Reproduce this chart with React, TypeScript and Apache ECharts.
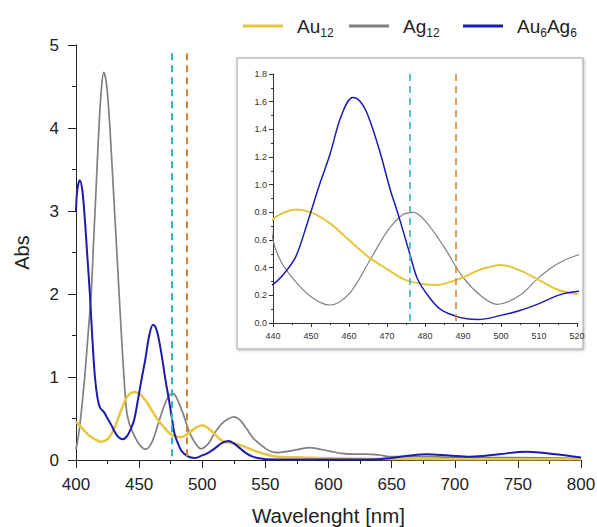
import React, { useEffect, useRef } from "react";
import * as echarts from "echarts";

const au12Wl = [400,405,410,415,420,425,430,435,440,443,446,450,455,460,465,470,475,480,483,487,490,495,500,505,510,515,520,525,530,540,550,560,580,600,700,800];
const au12Abs = [0.46,0.38,0.3,0.25,0.22,0.25,0.37,0.57,0.75,0.8,0.82,0.8,0.72,0.6,0.48,0.39,0.31,0.28,0.275,0.3,0.33,0.39,0.42,0.38,0.31,0.24,0.21,0.2,0.18,0.12,0.07,0.04,0.03,0.02,0.01,0.01];

const ag12Wl = [400,402,404,406,408,410,412,414,416,418,420,422,424,426,428,430,432,434,436,438,440,442,445,450,455,460,465,470,474,477,480,485,490,495,499,505,510,515,520,525,530,535,540,545,550,555,560,570,580,585,590,600,610,620,630,640,650,660,680,700,750,800];
const ag12Abs = [0.13,0.3,0.55,0.85,1.2,1.6,2.0,2.65,3.3,3.95,4.45,4.67,4.55,4.2,3.7,3.15,2.6,2.05,1.5,1.0,0.6,0.45,0.33,0.19,0.13,0.21,0.43,0.66,0.78,0.8,0.74,0.55,0.33,0.19,0.135,0.2,0.33,0.43,0.49,0.52,0.48,0.38,0.27,0.2,0.14,0.1,0.09,0.11,0.14,0.15,0.14,0.11,0.08,0.07,0.07,0.06,0.04,0.04,0.04,0.03,0.03,0.02];

const au6ag6Wl = [400,401,403,405,407,409,411,413,415,417,419,422,425,428,431,434,437,440,443,446,449,452,455,458,461,463,465,468,471,473,476,478,481,484,488,491,494,500,505,510,515,518,521,525,530,535,540,545,550,600,640,650,665,678,695,712,735,757,780,800];
const au6ag6Abs = [3.0,3.25,3.37,3.25,2.9,2.45,2.0,1.45,1.0,0.75,0.63,0.58,0.5,0.42,0.33,0.27,0.25,0.28,0.36,0.48,0.72,0.98,1.22,1.5,1.63,1.6,1.5,1.25,0.95,0.78,0.5,0.32,0.19,0.1,0.05,0.03,0.025,0.055,0.09,0.14,0.2,0.22,0.23,0.2,0.14,0.08,0.04,0.02,0.01,0.005,0.01,0.025,0.055,0.07,0.055,0.04,0.07,0.1,0.07,0.03];

const markerWl = [476, 488];
const markerColors = ["#35b5be", "#d2853a"];
const legendNames = ["Au12", "Ag12", "Au6Ag6"];
const legendLabels = ["{m|Au}{s|12}", "{m|Ag}{s|12}", "{m|Au}{s|6}{m|Ag}{s|6}"];

const FONT = "Liberation Sans, Arial, sans-serif";
const COLORS = { au12: "#e6c63c", ag12: "#808080", au6ag6: "#1c1cad" };

const zip = (xs: number[], ys: number[]) => xs.map((x, i) => [x, ys[i]]);

export default function App() {
  const ref = useRef<HTMLDivElement>(null);
  useEffect(() => {
    if (!ref.current) return;
    const chart = echarts.init(ref.current, undefined, { renderer: "svg" });

    const mkMark = (width: number, top: number) => ({
      silent: true,
      symbol: ["none", "none"],
      label: { show: false },
      data: markerWl.map((w, i) => [
        { coord: [w, top], lineStyle: { color: markerColors[i], type: [7, 5], width } },
        { coord: [w, 0] },
      ]),
    });

    const mkSeries = (grid: number, width: number) => [
      {
        name: "Ag12", type: "line", xAxisIndex: grid, yAxisIndex: grid,
        data: zip(ag12Wl, ag12Abs), smooth: 0.35, showSymbol: false,
        lineStyle: { color: COLORS.ag12, width: width - 0.3 }, itemStyle: { color: COLORS.ag12 },
        markLine: grid === 0 ? mkMark(2, 4.9) : mkMark(1.6, 1.8),
      },
      {
        name: "Au12", type: "line", xAxisIndex: grid, yAxisIndex: grid,
        data: zip(au12Wl, au12Abs), smooth: 0.35, showSymbol: false,
        lineStyle: { color: COLORS.au12, width: width + 0.5 }, itemStyle: { color: COLORS.au12 },
      },
      {
        name: "Au6Ag6", type: "line", xAxisIndex: grid, yAxisIndex: grid,
        data: zip(au6ag6Wl, au6ag6Abs), smooth: 0.35, showSymbol: false,
        lineStyle: { color: COLORS.au6ag6, width }, itemStyle: { color: COLORS.au6ag6 },
      },
    ];

    const axisCommon = (color: string) => ({
      axisLine: { show: true, onZero: false, lineStyle: { color, width: 1 } },
      splitLine: { show: false },
    });

    const legendLefts = [238, 344, 458];

    chart.setOption({
      animation: false,
      backgroundColor: "#ffffff",
      textStyle: { fontFamily: FONT },
      legend: legendNames.map((n, i) => ({
        data: [n],
        left: legendLefts[i],
        top: 10,
        icon: "rect",
        itemWidth: 40,
        itemHeight: 3,
        formatter: () => legendLabels[i],
        textStyle: {
          padding: [0, 0, 0, 9],
          rich: {
            m: { fontSize: 19, color: "#222", fontFamily: FONT, height: 22, lineHeight: 22 },
            s: { fontSize: 12, color: "#222", fontFamily: FONT, height: 8, lineHeight: 8, verticalAlign: "bottom" },
          },
        },
      })),
      graphic: [
        {
          type: "rect",
          z: -1,
          shape: { x: 237, y: 58, width: 346, height: 291 },
          style: { fill: "#ffffff", stroke: "#a0a0a0", lineWidth: 1, shadowBlur: 3, shadowColor: "rgba(0,0,0,0.25)", shadowOffsetX: 1, shadowOffsetY: 1 },
        },
      ],
      grid: [
        { left: 76, right: 16, top: 45, bottom: 67, outerBoundsMode: "none", containLabel: false },
        { left: 273, right: 20, top: 74, bottom: 204, outerBoundsMode: "none", containLabel: false },
      ],
      xAxis: [
        {
          type: "value", gridIndex: 0, min: 400, max: 800, interval: 50,
          ...axisCommon("#222"),
          axisTick: { show: true, length: 8, lineStyle: { color: "#222" } },
          minorTick: { show: true, splitNumber: 2, length: 4, lineStyle: { color: "#222" } },
          axisLabel: { fontSize: 17, color: "#222", fontFamily: FONT, margin: 16 },
          name: "Wavelenght [nm]", nameLocation: "middle", nameGap: 45,
          nameTextStyle: { fontSize: 20.5, color: "#222", fontFamily: FONT },
        },
        {
          type: "value", gridIndex: 1, min: 440, max: 520, interval: 10,
          ...axisCommon("#333"),
          axisTick: { show: true, length: 4, lineStyle: { color: "#333" } },
          minorTick: { show: true, splitNumber: 2, length: 2, lineStyle: { color: "#333" } },
          axisLabel: { fontSize: 9, color: "#333", fontFamily: FONT, margin: 8 },
        },
      ],
      yAxis: [
        {
          type: "value", gridIndex: 0, min: 0, max: 5, interval: 1,
          ...axisCommon("#222"),
          axisTick: { show: true, length: 8, lineStyle: { color: "#222" } },
          minorTick: { show: true, splitNumber: 2, length: 4, lineStyle: { color: "#222" } },
          axisLabel: { fontSize: 17, color: "#222", fontFamily: FONT, margin: 17 },
          name: "Abs", nameLocation: "middle", nameGap: 44,
          nameTextStyle: { fontSize: 20, color: "#222", fontFamily: FONT },
        },
        {
          type: "value", gridIndex: 1, min: 0, max: 1.8, interval: 0.2,
          ...axisCommon("#333"),
          axisTick: { show: true, length: 4, lineStyle: { color: "#333" } },
          minorTick: { show: true, splitNumber: 2, length: 2, lineStyle: { color: "#333" } },
          axisLabel: { fontSize: 9, color: "#333", fontFamily: FONT, margin: 6, formatter: (v: number) => v.toFixed(1) },
        },
      ],
      series: [...mkSeries(0, 2), ...mkSeries(1, 1.5)],
    });

    return () => chart.dispose();
  }, []);

  return <div ref={ref} style={{ position: "absolute", left: 0, top: 0, width: 597, height: 527 }} />;
}
